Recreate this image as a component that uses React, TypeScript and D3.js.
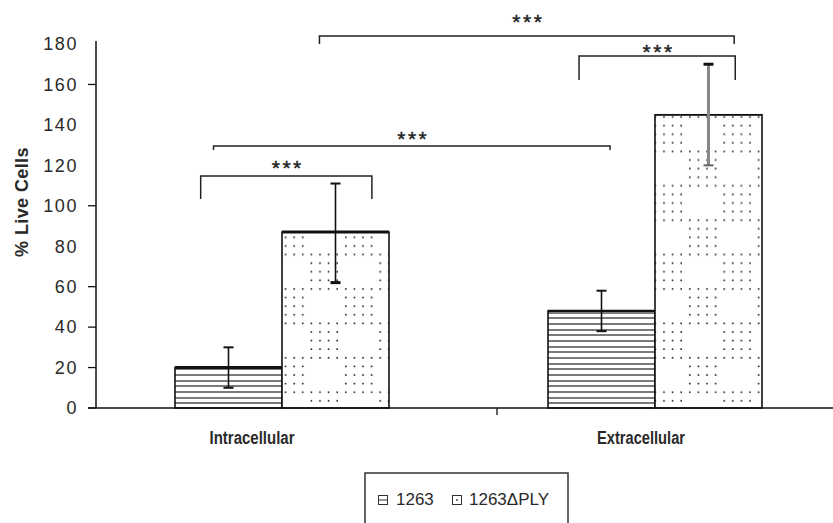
import React from "react";
import * as d3 from "d3";

const categories = ["Intracellular", "Extracellular"];
const seriesNames = ["1263", "1263ΔPLY"];
const values1263 = [20, 48];
const valuesPLY = [87, 145];
const errLow1263 = [10, 38];
const errHigh1263 = [30, 58];
const errLowPLY = [62, 120];
const errHighPLY = [111, 170];
const yTickLabels = [0, 20, 40, 60, 80, 100, 120, 140, 160, 180];
const yTickMarks = [0, 20, 40, 60, 100, 160];
// brackets: [group, fraction of group span] endpoints, top value, leg bottom value, star centre value
const bracketFrom = [[0, 0.12], [0, 0.18], [1, 0.145], [0, 0.675]];
const bracketTo = [[0, 0.92], [1, 0.29], [1, 0.875], [1, 0.87]];
const bracketTop = [114.7, 129.6, 174.1, 184];
const bracketLeg = [103.4, 127.6, 162.2, 180];
const bracketStarAt = [121.2, 135.7, 178.5, 193.4];
const bracketStars = ["***", "***", "***", "***"];

const W = 833, H = 523;
const FONT = "'Liberation Sans', Arial, sans-serif";

export default function App() {
  const y = d3.scaleLinear().domain([0, 180]).range([408, 44]);
  const x = d3.scaleBand().domain(categories).range([95.5, 841.5]).paddingInner(0).paddingOuter(0);
  const inner = d3.scaleBand().domain(seriesNames).range([0, 214]);
  const groupLeft = (c: string) => (x(c) as number) + x.bandwidth() / 2 - 107;
  const barX = (c: string, s: string) => groupLeft(c) + (inner(s) as number);
  const bw = inner.bandwidth();
  const fracX = (g: number, f: number) => groupLeft(categories[g]) + f * 214;

  const series = [
    { name: seriesNames[0], vals: values1263, lo: errLow1263, hi: errHigh1263, fill: "url(#hlines)", topW: [3, 2.2] },
    { name: seriesNames[1], vals: valuesPLY, lo: errLowPLY, hi: errHighPLY, fill: "url(#dots)", topW: [3, 1.6] },
  ];

  const S = 8.6;
  const dotRows = d3.range(8);
  const dotCols = d3.range(8);

  return (
    <svg width={W} height={H} style={{ position: "absolute", left: 0, top: 0, background: "#fff" }}>
      <defs>
        <pattern id="hlines" patternUnits="userSpaceOnUse" width="10" height="17" y="408">
          <rect width="10" height="17" fill="#fff" />
          <line x1="0" x2="10" y1="1" y2="1" stroke="#222" strokeWidth="1.2" />
          <line x1="0" x2="10" y1="7" y2="7" stroke="#222" strokeWidth="1.2" />
          <line x1="0" x2="10" y1="12" y2="12" stroke="#222" strokeWidth="1.2" />
        </pattern>
        <pattern id="dots" patternUnits="userSpaceOnUse" width={S * 8} height={S * 8} x="-2" y="10">
          <rect width={S * 8} height={S * 8} fill="#fff" />
          {dotRows.map((r) =>
            dotCols.map((c) => {
              const on = r === 0 || r === 4 ? true : r < 4 ? c < 4 : c >= 4;
              return on ? <rect key={r + "-" + c} x={c * S + 3} y={r * S + 3} width="1.6" height="1.6" fill="#222" /> : null;
            })
          )}
        </pattern>
      </defs>

      {/* Y axis */}
      <line x1={96} x2={96} y1={y(180) - 3} y2={y(0)} stroke="#111" strokeWidth={1.5} />
      {yTickMarks.map((t) => (
        <line key={"m" + t} x1={88} x2={96} y1={y(t)} y2={y(t)} stroke="#111" strokeWidth={1.3} />
      ))}
      {yTickLabels.map((t) => (
        <text key={t} x={78} y={y(t)} dy="0.35em" textAnchor="end" fontFamily={FONT} fontSize={18} letterSpacing={1.6} fill="#2a2a2a">{t}</text>
      ))}
      <text transform={`translate(28,202) rotate(-90)`} textAnchor="middle" fontFamily={FONT} fontSize={18} fontWeight="bold" letterSpacing={0.4} fill="#2a2a2a">% Live Cells</text>

      {/* Bars */}
      {series.map((s) =>
        categories.map((c, i) => (
          <g key={s.name + c}>
            <rect x={barX(c, s.name)} y={y(s.vals[i])} width={bw} height={y(0) - y(s.vals[i])} fill={s.fill} stroke="#111" strokeWidth={1.6} />
            <line x1={barX(c, s.name)} x2={barX(c, s.name) + bw} y1={y(s.vals[i])} y2={y(s.vals[i])} stroke="#111" strokeWidth={s.topW[i]} />
          </g>
        ))
      )}

      {/* Error bars */}
      {series.map((s, si) =>
        categories.map((c, i) => {
          const cx = barX(c, s.name) + bw / 2;
          const grey = si === 1 && i === 1;
          return (
            <g key={"e" + s.name + c}>
              <line x1={cx} x2={cx} y1={y(s.lo[i])} y2={y(s.hi[i])} stroke={grey ? "#888" : "#111"} strokeWidth={grey ? 3 : 1.6} />
              <line x1={cx - 5} x2={cx + 5} y1={y(s.lo[i])} y2={y(s.lo[i])} stroke={grey ? "#666" : "#111"} strokeWidth={si === 1 && i === 0 ? 3 : 2} />
              <line x1={cx - 5} x2={cx + 5} y1={y(s.hi[i])} y2={y(s.hi[i])} stroke="#111" strokeWidth={grey ? 3 : 2} />
            </g>
          );
        })
      )}

      {/* X axis */}
      <line x1={88} x2={W} y1={y(0)} y2={y(0)} stroke="#111" strokeWidth={1.5} />
      <line x1={497} x2={497} y1={y(0)} y2={y(0) + 7} stroke="#111" strokeWidth={1.3} />
      {categories.map((c, i) => (
        <text key={c} x={(x(c) as number) + x.bandwidth() / 2 - (i === 0 ? 30 : 14)} y={444} textAnchor="middle" fontFamily={FONT} fontSize={18} fontWeight="bold" fill="#2a2a2a" textLength={i === 0 ? 85 : 88} lengthAdjust="spacingAndGlyphs">{c}</text>
      ))}

      {/* Significance brackets */}
      {bracketTop.map((t, k) => {
        const x1 = fracX(bracketFrom[k][0], bracketFrom[k][1]);
        const x2 = fracX(bracketTo[k][0], bracketTo[k][1]);
        const yt = y(t), yl = y(bracketLeg[k]);
        return (
          <g key={"b" + k}>
            <path d={`M${x1},${yl}V${yt}H${x2}V${yl}`} fill="none" stroke="#222" strokeWidth={1.5} />
            <text x={(x1 + x2) / 2 + 1.5} y={y(bracketStarAt[k]) + 12} textAnchor="middle" fontFamily={FONT} fontSize={21} letterSpacing={2.5} fill="#222" stroke="#222" strokeWidth={0.4}>{bracketStars[k]}</text>
          </g>
        );
      })}

      {/* Legend */}
      <rect x={365} y={473} width={203} height={60} fill="#fff" stroke="#333" strokeWidth={1.5} />
      <rect x={378.5} y={495.5} width={9} height={9} fill="#fff" stroke="#333" strokeWidth={1} />
      <line x1={378.5} x2={387.5} y1={500} y2={500} stroke="#333" strokeWidth={1} />
      <text x={396} y={505} fontFamily={FONT} fontSize={17} fill="#2a2a2a">{seriesNames[0]}</text>
      <rect x={452.5} y={495.5} width={9} height={9} fill="#fff" stroke="#333" strokeWidth={1} />
      <rect x={456.2} y={499.2} width={1.6} height={1.6} fill="#333" />
      <text x={469} y={505} fontFamily={FONT} fontSize={17} fill="#2a2a2a">{seriesNames[1]}</text>
    </svg>
  );
}
